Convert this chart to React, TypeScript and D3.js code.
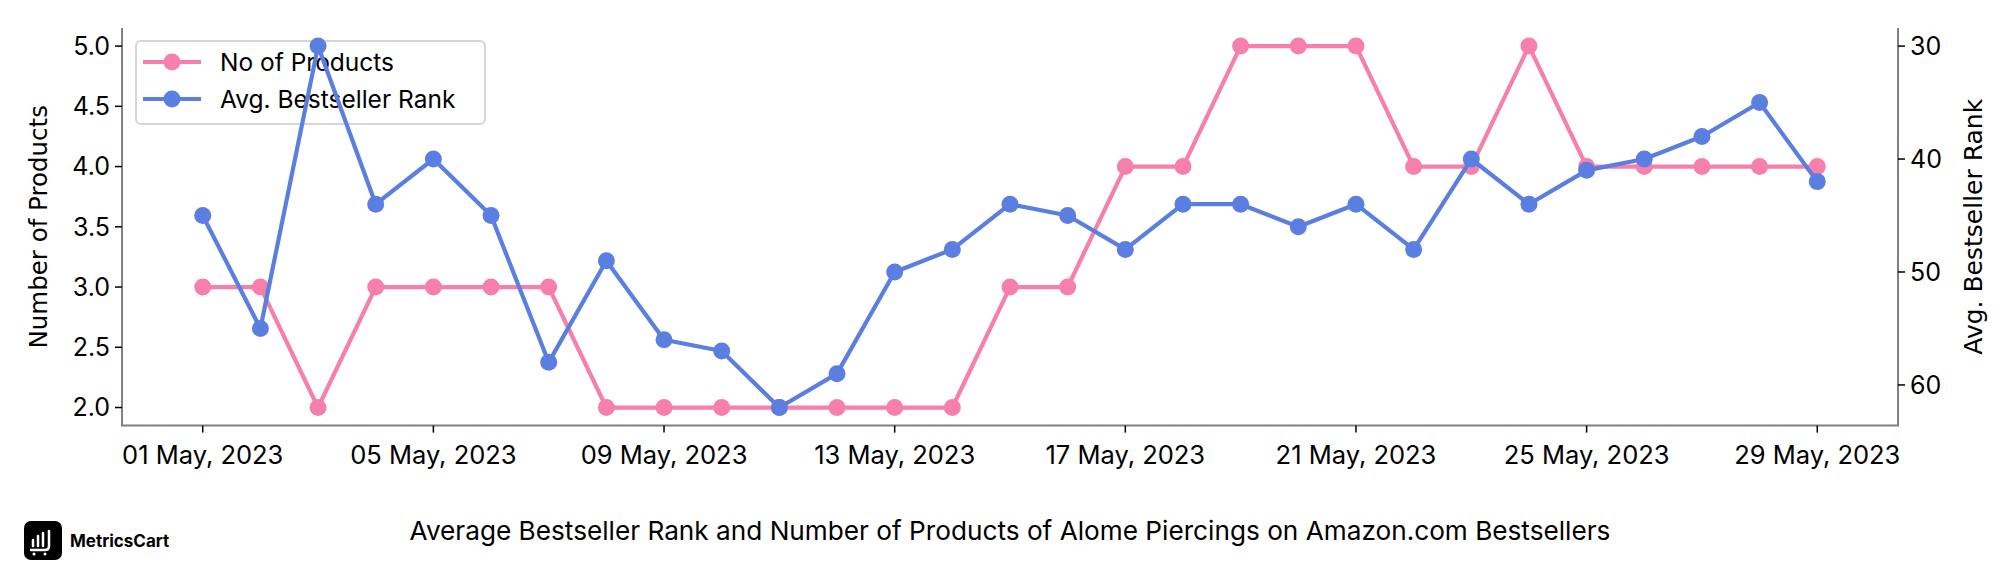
import React from "react";
import * as d3 from "d3";

const dates = [
  "2023-05-01","2023-05-02","2023-05-03","2023-05-04","2023-05-05","2023-05-06","2023-05-07",
  "2023-05-08","2023-05-09","2023-05-10","2023-05-11","2023-05-12","2023-05-13","2023-05-14",
  "2023-05-15","2023-05-16","2023-05-17","2023-05-18","2023-05-19","2023-05-20","2023-05-21",
  "2023-05-22","2023-05-23","2023-05-24","2023-05-25","2023-05-26","2023-05-27","2023-05-28","2023-05-29",
];
const noOfProducts = [3,3,2,3,3,3,3,2,2,2,2,2,2,2,3,3,4,4,5,5,5,4,4,5,4,4,4,4,4];
const avgRank = [45,55,30,44,40,45,58,49,56,57,62,59,50,48,44,45,48,44,44,46,44,48,40,44,41,40,38,35,42];
const leftTicks = [2.0,2.5,3.0,3.5,4.0,4.5,5.0];
const rightTicks = [30,40,50,60];
const xTickDates = ["2023-05-01","2023-05-05","2023-05-09","2023-05-13","2023-05-17","2023-05-21","2023-05-25","2023-05-29"];
const seriesNames = ["No of Products", "Avg. Bestseller Rank"];
const title = "Average Bestseller Rank and Number of Products of Alome Piercings on Amazon.com Bestsellers";

const PINK = "#F77FAC";
const BLUE = "#5B7FE0";
const AXIS = "#808080";
const TICKFONT = "Inter, 'Noto Sans', sans-serif";
const LABELFONT = "'DejaVu Sans', sans-serif";

export default function App() {
  const W = 2016, H = 576;
  const L = 122, R = 1898, T = 28, B = 425.6;
  const parse = d3.utcParse("%Y-%m-%d");
  const xs = dates.map((d) => parse(d)!);
  const x0 = xs[0].getTime(), x1 = xs[xs.length - 1].getTime();
  const pad = (x1 - x0) * 0.05;
  const x = d3.scaleUtc().domain([new Date(x0 - pad), new Date(x1 + pad)]).range([L, R]);
  const yl = d3.scaleLinear().domain([1.85, 5.15]).range([B, T]);
  const rmin = d3.min(avgRank)!, rmax = d3.max(avgRank)!;
  const rp = (rmax - rmin) * 0.05;
  const yr = d3.scaleLinear().domain([rmin - rp, rmax + rp]).range([T, B]);
  const fmt = d3.utcFormat("%d %b, %Y");

  const linePink = d3.line<number>().x((_, i) => x(xs[i])).y((d) => yl(d));
  const lineBlue = d3.line<number>().x((_, i) => x(xs[i])).y((d) => yr(d));

  return (
    <svg width={W} height={H} style={{ display: "block", position: "absolute", left: 0, top: 0 }}>
      <rect width={W} height={H} fill="#fff" />
      {/* pink series */}
      <path d={linePink(noOfProducts)!} fill="none" stroke={PINK} strokeWidth={4.2} strokeLinejoin="round" />
      {noOfProducts.map((v, i) => (
        <circle key={"p" + i} cx={x(xs[i])} cy={yl(v)} r={8.5} fill={PINK} />
      ))}
      {/* legend */}
      <g>
        <rect x={136} y={41} width={349} height={83} rx={5} fill="rgba(255,255,255,0.8)" stroke="#d6d6d6" strokeWidth={2} />
        {seriesNames.map((n, i) => (
          <g key={n} transform={`translate(0, ${62 + i * 37})`}>
            <line x1={143} x2={201} y1={0} y2={0} stroke={i === 0 ? PINK : BLUE} strokeWidth={4.2} />
            <circle cx={172} cy={0} r={8.5} fill={i === 0 ? PINK : BLUE} />
            <text x={220} y={0} dy="0.35em" fontFamily={TICKFONT} fontSize={24.5} fill="#000">{n}</text>
          </g>
        ))}
      </g>
      {/* blue series */}
      <path d={lineBlue(avgRank)!} fill="none" stroke={BLUE} strokeWidth={4.2} strokeLinejoin="round" />
      {avgRank.map((v, i) => (
        <circle key={"b" + i} cx={x(xs[i])} cy={yr(v)} r={8.5} fill={BLUE} />
      ))}
      {/* spines */}
      <line x1={L} x2={L} y1={T} y2={B} stroke={AXIS} strokeWidth={2} />
      <line x1={R} x2={R} y1={T} y2={B} stroke={AXIS} strokeWidth={2} />
      <line x1={L - 1} x2={R + 1} y1={B} y2={B} stroke={AXIS} strokeWidth={2} />
      {/* left ticks */}
      {leftTicks.map((t) => (
        <g key={"l" + t}>
          <line x1={L - 7} x2={L} y1={yl(t)} y2={yl(t)} stroke="#000" strokeWidth={1.5} />
          <text x={L - 12} y={yl(t)} dy="0.35em" textAnchor="end" fontFamily={TICKFONT} fontSize={25}>{t.toFixed(1)}</text>
        </g>
      ))}
      {/* right ticks */}
      {rightTicks.map((t) => (
        <g key={"r" + t}>
          <line x1={R} x2={R + 7} y1={yr(t)} y2={yr(t)} stroke="#000" strokeWidth={1.5} />
          <text x={R + 12} y={yr(t)} dy="0.35em" textAnchor="start" fontFamily={TICKFONT} fontSize={25}>{t}</text>
        </g>
      ))}
      {/* x ticks */}
      {xTickDates.map((d) => {
        const dt = parse(d)!;
        return (
          <g key={d}>
            <line x1={x(dt)} x2={x(dt)} y1={B} y2={B + 7} stroke="#000" strokeWidth={1.5} />
            <text x={x(dt)} y={455} dy="0.35em" textAnchor="middle" fontFamily={TICKFONT} fontSize={25.5}>{fmt(dt)}</text>
          </g>
        );
      })}
      {/* axis labels */}
      <text transform={`translate(38, ${(T + B) / 2}) rotate(-90)`} textAnchor="middle" dy="0.35em" fontFamily={LABELFONT} fontSize={24.5}>Number of Products</text>
      <text transform={`translate(1973, ${(T + B) / 2}) rotate(-90)`} textAnchor="middle" dy="0.35em" fontFamily={LABELFONT} fontSize={25}>Avg. Bestseller Rank</text>
      {/* title */}
      <text x={1010} y={531} dy="0.35em" textAnchor="middle" fontFamily={TICKFONT} fontSize={26.2}>{title}</text>
      {/* logo */}
      <g>
        <rect x={24} y={521} width={38} height={39} rx={7} fill="#000" />
        <g stroke="#fff" strokeWidth={2.5} strokeLinecap="round" fill="none">
          <line x1={33} x2={33} y1={540} y2={546} />
          <line x1={38} x2={38} y1={536} y2={546} />
          <line x1={43} x2={43} y1={533} y2={546} />
          <path d="M49,531 L49,546 Q49,550 45,550 L31,550" />
        </g>
        <circle cx={34} cy={554} r={1.5} fill="#fff" />
        <circle cx={45} cy={554} r={1.5} fill="#fff" />
        <text x={70} y={541} dy="0.35em" fontFamily={TICKFONT} fontWeight={700} fontSize={17}>MetricsCart</text>
      </g>
    </svg>
  );
}
